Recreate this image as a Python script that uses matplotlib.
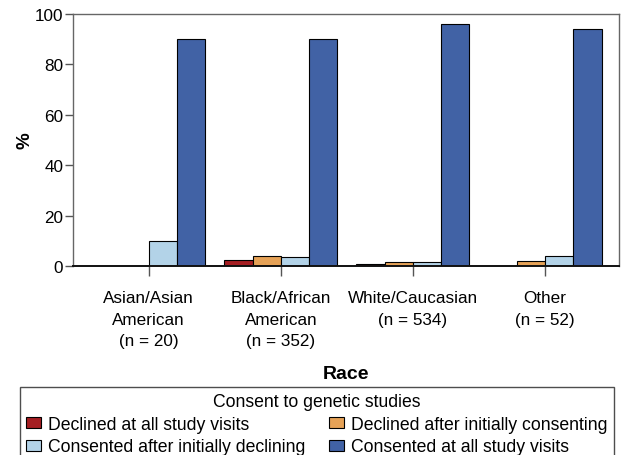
import matplotlib
matplotlib.use("Agg")
import matplotlib.pyplot as plt
import numpy as np

plt.rcParams['font.family'] = ['Liberation Sans', 'DejaVu Sans']

categories = ["Asian/Asian\nAmerican\n(n = 20)", "Black/African\nAmerican\n(n = 352)",
              "White/Caucasian\n(n = 534)", "Other\n(n = 52)"]
series_names = ["Declined at all study visits", "Declined after initially consenting",
                "Consented after initially declining", "Consented at all study visits"]
declined_all = [0.0, 2.4, 0.9, 0.0]
declined_after = [0.0, 4.0, 1.6, 1.9]
consented_after = [10.0, 3.6, 1.6, 3.9]
consented_all = [90.0, 90.0, 95.9, 94.2]
colors = ["#A51E22", "#E6A257", "#B3D3E8", "#4162A5"]

series = [declined_all, declined_after, consented_after, consented_all]

fig = plt.figure(figsize=(6.21, 4.56), dpi=100)
ax = fig.add_axes([73/621, 1-267/456, (619-73)/621, (267-15)/456])

x = np.arange(len(categories))
w = 0.214
for i, (vals, c, name) in enumerate(zip(series, colors, series_names)):
    ax.bar(x + (i - 1.5) * w, vals, width=w, color=c, edgecolor='black',
           linewidth=0.8, label=name, zorder=2)

ax.set_xlim(-0.573, 3.56)
ax.set_ylim(0, 100)
ax.set_yticks([0, 20, 40, 60, 80, 100])
ax.set_xticks(x)
ax.set_xticklabels(categories, fontsize=12.3, linespacing=1.53)
ax.tick_params(axis='y', labelsize=12.3, length=5.5, width=1, color='#555555', pad=1.5)
ax.tick_params(axis='x', length=7, width=1, color='#555555', pad=10.5)
for s in ax.spines.values():
    s.set_color('#666666')
    s.set_linewidth(1)
ax.spines['bottom'].set_color('#111111')
ax.spines['bottom'].set_linewidth(1.4)
ax.set_ylabel('%', fontsize=13.5, fontweight='bold', labelpad=1)
ax.set_xlabel('Race', fontsize=14, fontweight='bold', labelpad=12)

handles, labels = ax.get_legend_handles_labels()
order = [0, 2, 1, 3]
leg = fig.legend([handles[i] for i in order], [labels[i] for i in order],
                 loc='upper left',
                 bbox_to_anchor=(20/621, 1-388/456, (614-20)/621, 0.0),
                 mode='expand', ncol=2, title='Consent to genetic studies',
                 fontsize=12.7, title_fontsize=12.7, frameon=True, fancybox=False,
                 edgecolor='#222222', handlelength=0.82, handleheight=0.62,
                 handletextpad=0.43, borderpad=0.35, labelspacing=0.32,
                 columnspacing=0.6, borderaxespad=0)
leg.get_frame().set_linewidth(1)

fig.savefig('out.png', dpi=100)
